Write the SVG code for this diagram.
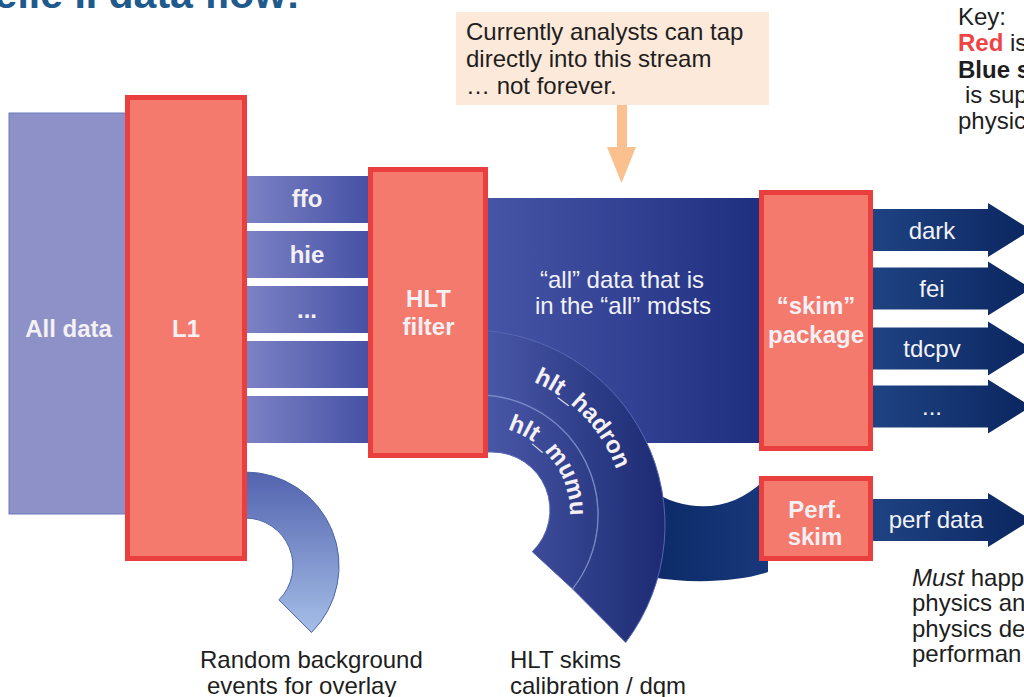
<svg xmlns="http://www.w3.org/2000/svg" width="1024" height="697" viewBox="0 0 1024 697">
  <defs>
    <linearGradient id="gBar" x1="0" y1="0" x2="1" y2="0">
      <stop offset="0" stop-color="#7d83c5"/>
      <stop offset="1" stop-color="#4450a4"/>
    </linearGradient>
    <linearGradient id="gMain" x1="0" y1="0" x2="1" y2="0">
      <stop offset="0" stop-color="#4755a7"/>
      <stop offset="1" stop-color="#1f2f80"/>
    </linearGradient>
    <linearGradient id="gBand" gradientUnits="userSpaceOnUse" x1="480" y1="0" x2="670" y2="0">
      <stop offset="0" stop-color="#4b59aa"/>
      <stop offset="1" stop-color="#1a2970"/>
    </linearGradient>
    <linearGradient id="gS" x1="0" y1="0" x2="1" y2="0">
      <stop offset="0" stop-color="#0c2a66"/>
      <stop offset="1" stop-color="#18387c"/>
    </linearGradient>
    <linearGradient id="gArrow" x1="0" y1="0" x2="1" y2="0">
      <stop offset="0" stop-color="#1f4383"/>
      <stop offset="1" stop-color="#0b2660"/>
    </linearGradient>
    <linearGradient id="gRand" gradientUnits="userSpaceOnUse" x1="0" y1="470" x2="0" y2="640">
      <stop offset="0" stop-color="#5262ae"/>
      <stop offset="1" stop-color="#a9c3ea"/>
    </linearGradient>
    <!-- block arrow, centred on y = 0 -->
    <path id="arrow" d="M872,-21 H988 V-27 L1031,0 L988,27 V21 H872 Z"/>
    <path id="hadronPath" d="M475,370 A150,150 0 0 1 581.1,626.1"/>
    <path id="mumuPath" d="M483,426 A87,87 0 0 1 544.5,574.5"/>
  </defs>
  <style>
    .box { fill: #f47a6e; stroke: #ea3f3f; stroke-width: 5; }
    .lbl { font-family: "Liberation Sans", Arial, sans-serif; font-weight: bold; font-size: 24px; fill: #f4f0f4; text-anchor: middle; }
    .flow { font-family: "Liberation Sans", Arial, sans-serif; font-size: 24px; fill: #f2f2f8; text-anchor: middle; }
    .txt { font-family: "Liberation Sans", Arial, sans-serif; font-size: 24px; fill: #1e1e1e; }
    .bar { fill: url(#gBar); }
    .band { fill: url(#gBand); stroke: #5866b2; stroke-width: 1; }
  </style>

  <rect width="1024" height="697" fill="#ffffff"/>

  <!-- slide heading, clipped by the top edge -->
  <text x="-35" y="8" font-family="Liberation Sans, Arial, sans-serif" font-weight="bold" font-size="41" fill="#1f5a8c">Belle II data flow:</text>

  <!-- data streams -->
  <g id="connectors">
    <!-- random background branch below L1 -->
    <path d="M240,472 H245 A94,94 0 0 1 311.5,632.5 L278.9,599.9 A48,48 0 0 0 245,518 H240 Z" fill="url(#gRand)" stroke="#4a66a6" stroke-width="1"/>
    <!-- L1 output channels -->
    <rect class="bar" x="244" y="176" width="128" height="47"/>
    <rect class="bar" x="244" y="231" width="128" height="47"/>
    <rect class="bar" x="244" y="286" width="128" height="47"/>
    <rect class="bar" x="244" y="341" width="128" height="47"/>
    <rect class="bar" x="244" y="396" width="128" height="47"/>
    <!-- main "all" stream -->
    <rect x="486" y="198" width="276" height="245" fill="url(#gMain)"/>
    <!-- branch into the performance skim -->
    <path d="M650,490 C690,515 735,512 768,476 L768,572 C740,582 690,584 650,577 Z" fill="url(#gS)"/>
    <!-- HLT skims -->
    <path class="band" d="M470,330 A195,195 0 0 1 625.7,642.4 L572.6,588.9 A120,120 0 0 0 478,395 Z"/>
    <path class="band" d="M478,395 A120,120 0 0 1 572.6,588.9 L532.3,551.7 A58,58 0 0 0 492,452 L478,452 Z"/>
    <path d="M478,395 A120,120 0 0 1 572.6,588.9" fill="none" stroke="#9aabe0" stroke-width="1.4" opacity="0.5"/>
    <!-- skim outputs -->
    <use href="#arrow" fill="url(#gArrow)" transform="translate(0,230)"/>
    <use href="#arrow" fill="url(#gArrow)" transform="translate(0,288.5)"/>
    <use href="#arrow" fill="url(#gArrow)" transform="translate(0,348.5)"/>
    <use href="#arrow" fill="url(#gArrow)" transform="translate(0,406.5)"/>
    <use href="#arrow" fill="url(#gArrow)" transform="translate(0,520)"/>
    <!-- note pointer -->
    <rect x="617" y="104" width="10" height="44" fill="#fac08f"/>
    <polygon points="607,147 636,147 621.5,183" fill="#fac08f"/>
  </g>

  <!-- stream labels -->
  <g id="stream-labels">
    <text class="lbl" x="307" y="207">ffo</text>
    <text class="lbl" x="307" y="263">hie</text>
    <text class="lbl" x="307" y="318">...</text>
    <text class="flow" x="622" y="288">“all” data that is</text>
    <text class="flow" x="623" y="314">in the “all” mdsts</text>
    <text class="lbl" font-size="23"><textPath href="#hadronPath" startOffset="122" text-anchor="middle">hlt_hadron</textPath></text>
    <text class="lbl" font-size="23"><textPath href="#mumuPath" startOffset="82" text-anchor="middle">hlt_mumu</textPath></text>
    <text class="flow" x="932" y="239">dark</text>
    <text class="flow" x="932" y="297">fei</text>
    <text class="flow" x="932" y="357">tdcpv</text>
    <text class="flow" x="932" y="415">...</text>
    <text class="flow" x="936" y="528">perf data</text>
  </g>

  <g id="all-data">
    <rect x="9" y="113" width="117" height="401" fill="#8e91c7" stroke="#6b7bbf" stroke-width="1"/>
    <text class="lbl" x="68.5" y="337">All data</text>
  </g>

  <g id="l1">
    <rect class="box" x="127.5" y="97.5" width="117" height="461"/>
    <text class="lbl" x="186" y="337">L1</text>
  </g>

  <g id="hlt-filter">
    <rect class="box" x="370.5" y="169.5" width="115" height="286"/>
    <text class="lbl" x="428.5" y="307">HLT</text>
    <text class="lbl" x="428.5" y="335">filter</text>
  </g>

  <g id="skim-package">
    <rect class="box" x="761.5" y="192.5" width="109" height="256"/>
    <text class="lbl" x="816" y="314">“skim”</text>
    <text class="lbl" x="816" y="343">package</text>
  </g>

  <g id="perf-skim">
    <rect class="box" x="761.5" y="478.5" width="109" height="80"/>
    <text class="lbl" x="815" y="518">Perf.</text>
    <text class="lbl" x="815" y="545">skim</text>
  </g>

  <g id="note">
    <rect x="456" y="12" width="313" height="93" fill="#fde9d9"/>
    <text class="txt" x="466" y="39.5">Currently analysts can tap</text>
    <text class="txt" x="466" y="66.5">directly into this stream</text>
    <text class="txt" x="466" y="93.5">… not forever.</text>
  </g>

  <g id="key">
    <text class="txt" x="958" y="25">Key:</text>
    <text class="txt" x="958" y="51"><tspan font-weight="bold" fill="#ee4444">Red</tspan> is</text>
    <text class="txt" x="958" y="77.5" font-weight="bold" fill="#263593">Blue s</text>
    <text class="txt" x="965" y="103">is sup</text>
    <text class="txt" x="958" y="129">physic</text>
  </g>

  <g id="captions">
    <text class="txt" x="200" y="668">Random background</text>
    <text class="txt" x="207" y="694">events for overlay</text>
    <text class="txt" x="510" y="668">HLT skims</text>
    <text class="txt" x="510" y="694">calibration / dqm</text>
    <text class="txt" x="912" y="586"><tspan font-style="italic">Must</tspan> happ</text>
    <text class="txt" x="912" y="611">physics an</text>
    <text class="txt" x="912" y="637">physics de</text>
    <text class="txt" x="912" y="662">performan</text>
  </g>
</svg>
